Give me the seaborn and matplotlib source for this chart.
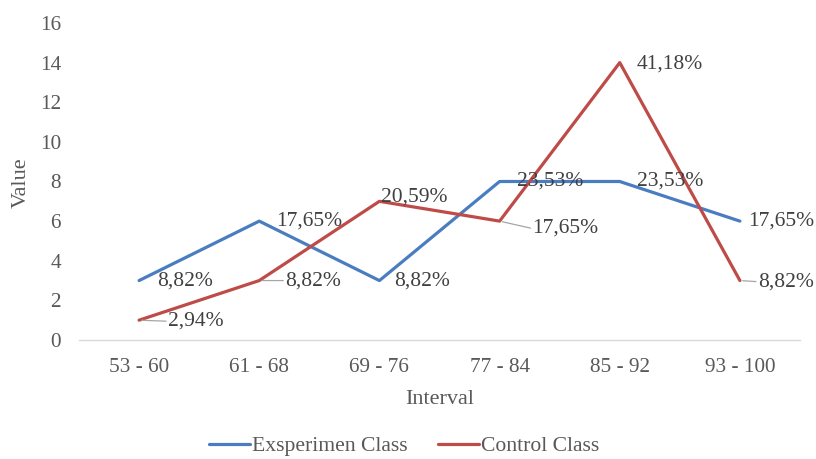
import matplotlib
matplotlib.use("Agg")
import matplotlib.pyplot as plt
import seaborn as sns
import pandas as pd

# Score intervals and number of students per interval
intervals = ["53 - 60", "61 - 68", "69 - 76", "77 - 84", "85 - 92", "93 - 100"]
experiment_counts = [3, 6, 3, 8, 8, 6]
control_counts = [1, 3, 7, 6, 14, 3]
series_names = ["Exsperimen Class", "Control Class"]
y_ticks = [0, 2, 4, 6, 8, 10, 12, 14, 16]

sns.set_theme(style="white")
plt.rcParams["font.family"] = ["Liberation Serif", "DejaVu Serif"]

df = pd.concat([
    pd.DataFrame({"Interval": intervals, "Value": experiment_counts, "Class": series_names[0]}),
    pd.DataFrame({"Interval": intervals, "Value": control_counts, "Class": series_names[1]}),
], ignore_index=True)

palette = {series_names[0]: "#4A7DC0", series_names[1]: "#BE4B48"}

fig = plt.figure(figsize=(8.16, 4.59), dpi=100)
ax = fig.add_axes([79 / 816, 1 - 340 / 459, (800 - 79) / 816, (340 - 23) / 459])

sns.lineplot(data=df, x="Interval", y="Value", hue="Class", palette=palette,
             linewidth=2.3, ax=ax, sort=False, legend=True)

ax.set_xlim(-0.5, len(intervals) - 0.5)
ax.set_ylim(0, 16)
ax.set_yticks(y_ticks)

text_grey = "#595959"
label_grey = "#404040"
ax.tick_params(axis="both", length=0, labelsize=15.3, labelcolor=text_grey)
ax.tick_params(axis="x", pad=13)
ax.tick_params(axis="y", pad=13)
for side in ["top", "right", "left"]:
    ax.spines[side].set_visible(False)
ax.spines["bottom"].set_color("#D9D9D9")
ax.spines["bottom"].set_linewidth(1.0)
ax.grid(False)

ax.set_xlabel("Interval", fontsize=16, color=text_grey, labelpad=9)
ax.set_ylabel("Value", fontsize=16, color=text_grey)
ax.yaxis.set_label_coords((31 - 79) / 721, (340 - 183) / 317)

# Percent labels: (dx, dy) offsets in pixels and whether a leader line is drawn
exp_offsets = [(18, 0, False), (17, 0, False), (15, 0, False),
               (17, 0, False), (17, 0, False), (8, 0, False)]
ctl_offsets = [(29, -1, True), (26, 0, True), (2, 4, False),
               (33, -7, True), (17, -1, False), (18, -1, True)]

px = 72 / 100
for counts, offsets in [(experiment_counts, exp_offsets), (control_counts, ctl_offsets)]:
    total = sum(counts)
    for i, (v, (dx, dy, leader)) in enumerate(zip(counts, offsets)):
        label = f"{v / total * 100:.2f}%".replace(".", ",")
        ax.annotate(label, xy=(i, v), xytext=(dx * px, dy * px), textcoords="offset points",
                    ha="left", va="center", fontsize=15.5, color=label_grey)
        if leader:
            ax.annotate("", xy=(i, v), xytext=((dx - 2) * px, dy * px), textcoords="offset points",
                        arrowprops=dict(arrowstyle="-", color="#A6A6A6", lw=0.9,
                                        shrinkA=0, shrinkB=2))

handles, labels = ax.get_legend_handles_labels()
ax.legend(handles, labels, loc="center", bbox_to_anchor=((404 - 79) / 721, (340 - 446) / 317),
          bbox_transform=ax.transAxes, ncol=2, frameon=False, fontsize=15.6,
          handlelength=1.9, handletextpad=0.1, columnspacing=1.4,
          labelcolor=text_grey, borderpad=0.1)

fig.savefig("out.png", dpi=100)
